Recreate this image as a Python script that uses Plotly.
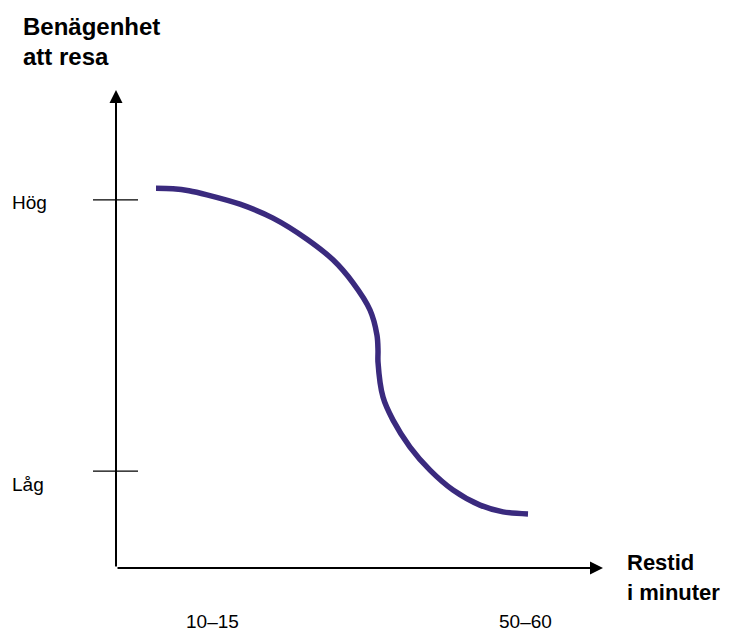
import plotly.graph_objects as go

# Curve (schematic units: x 0-100 = travel time, y 0-100 = propensity)
curve_x = [8.0, 11.4, 14.6, 18.2, 24.8, 31.4, 38.2, 43.4, 47.4, 50.8, 52.2, 52.4, 52.4,
           53.4, 55.4, 58.8, 62.8, 67.4, 72.8, 77.4, 82.4]
curve_y = [79.1, 79.0, 78.6, 77.75, 75.8, 72.9, 68.5, 64.2, 59.4, 53.75, 48.5, 45.4, 42.9,
           35.6, 30.8, 25.2, 20.4, 16.25, 13.1, 11.7, 11.25]

level_labels = ["Hög", "Låg"]
level_vals = [76.7, 20.2]
time_labels = ["10–15", "50–60"]
time_vals = [19.2, 81.8]

y_title = ["Benägenhet", "att resa"]
x_title = ["Restid", "i minuter"]

FONT = "Liberation Sans, Arial, sans-serif"
CURVE_COLOR = "#3a2a7e"

W, H = 731, 632
OX, OY = 108, 560      # pixel position of the origin inside the figure
SX, SY = 5.0, 4.8      # pixels per unit

fig = go.Figure()
fig.add_trace(go.Scatter(
    x=curve_x, y=curve_y, mode="lines",
    line=dict(color=CURVE_COLOR, width=5.5, shape="spline", smoothing=0.9),
    hoverinfo="skip", showlegend=False, cliponaxis=False,
))

annotations = []
# axis arrows
annotations.append(dict(x=0, y=99.6, ax=0, ay=0, xref="x", yref="y", axref="x", ayref="y",
                        showarrow=True, arrowhead=2, arrowsize=1.3, arrowwidth=2,
                        arrowcolor="black", text=""))
annotations.append(dict(x=97.4, y=0, ax=0, ay=0, xref="x", yref="y", axref="x", ayref="y",
                        showarrow=True, arrowhead=2, arrowsize=1.3, arrowwidth=2,
                        arrowcolor="black", text=""))

# y level labels (drawn slightly offset like the reference)
label_offsets = [-0.6, -2.9]
for lab, v, off in zip(level_labels, level_vals, label_offsets):
    annotations.append(dict(x=-21.2, y=v + off, xref="x", yref="y", text=lab,
                            showarrow=False, xanchor="left", yanchor="middle",
                            font=dict(family=FONT, size=19, color="black")))

for lab, v in zip(time_labels, time_vals):
    annotations.append(dict(x=v, y=-11.2, xref="x", yref="y", text=lab,
                            showarrow=False, xanchor="center", yanchor="middle",
                            font=dict(family=FONT, size=19, color="black")))

for line, yy in zip(y_title, [112.9, 106.5]):
    annotations.append(dict(x=-19.0, y=yy, xref="x", yref="y", text="<b>%s</b>" % line,
                            showarrow=False, xanchor="left", yanchor="middle",
                            font=dict(family=FONT, size=24, color="black")))
for line, yy in zip(x_title, [1.25, -5.0]):
    annotations.append(dict(x=101.8, y=yy, xref="x", yref="y", text="<b>%s</b>" % line,
                            showarrow=False, xanchor="left", yanchor="middle",
                            font=dict(family=FONT, size=22, color="black")))

shapes = []
for v in level_vals:
    shapes.append(dict(type="line", xref="x", yref="y", x0=-4.6, x1=4.4, y0=v, y1=v,
                       line=dict(color="black", width=1.2)))

fig.update_layout(
    width=W, height=H,
    margin=dict(l=0, r=0, t=0, b=0),
    paper_bgcolor="white", plot_bgcolor="white",
    xaxis=dict(range=[-OX / SX, (W - OX) / SX], visible=False, fixedrange=True),
    yaxis=dict(range=[-(H - OY) / SY, OY / SY], visible=False, fixedrange=True),
    annotations=annotations, shapes=shapes,
    showlegend=False,
)

fig.write_html("out.html")
